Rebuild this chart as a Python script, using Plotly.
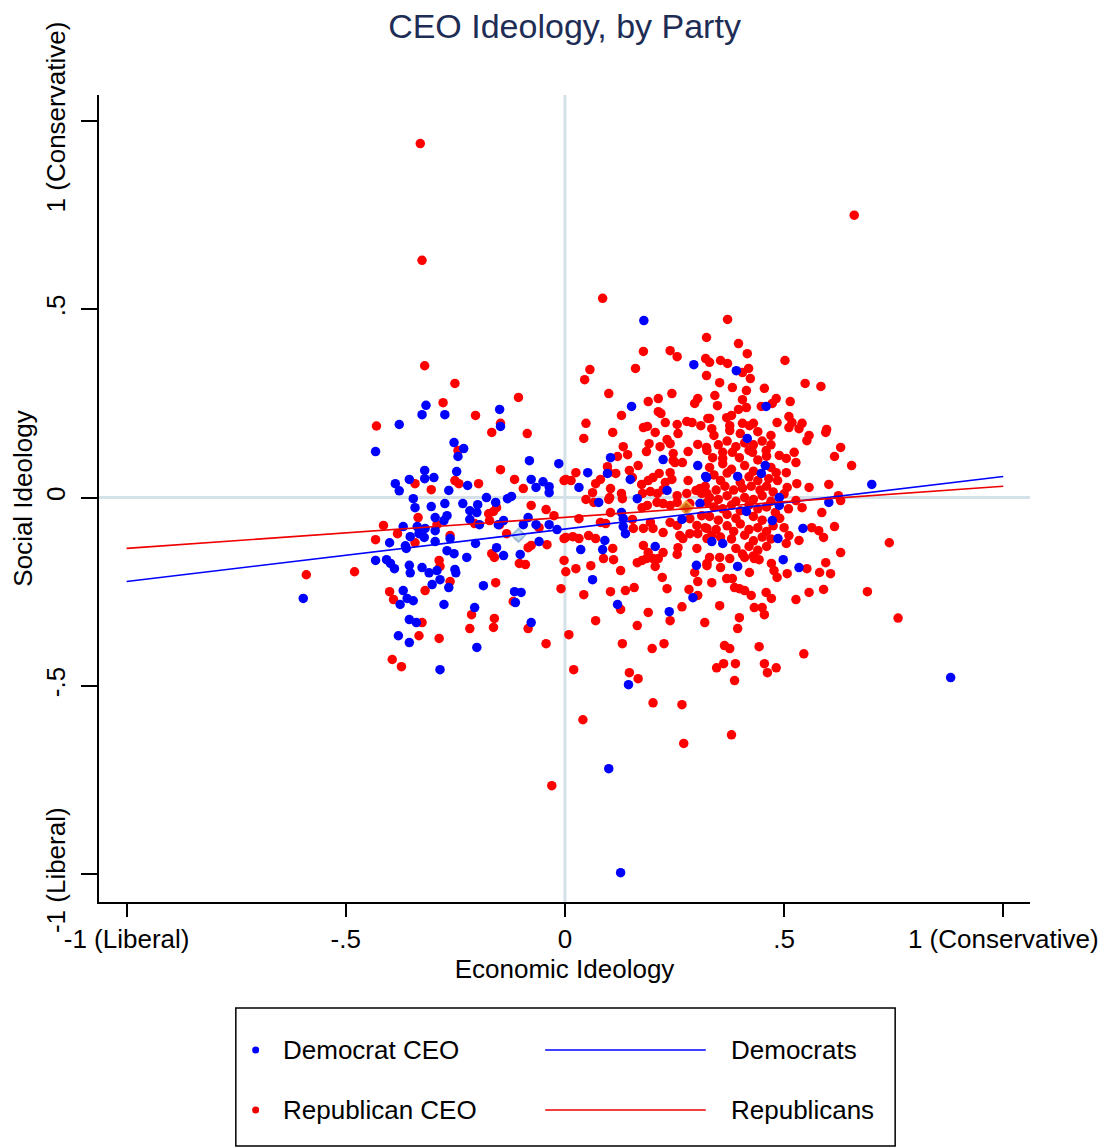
import plotly.graph_objects as go

# ---------------- data ----------------
dem_x = [0.18, 0.127, 0.10, 0.88, -0.597, 0.145, 0.70, -0.432, -0.378,
         -0.326, -0.317, -0.387, -0.378, -0.355, -0.32, -0.32, -0.346, -0.342, -0.337, -0.369,
         -0.40, -0.364, -0.362, -0.353, -0.333, -0.321, -0.432, -0.407, -0.398, -0.389,
         -0.355, -0.353, -0.326, -0.369, -0.376, -0.36, -0.346, -0.355, -0.339, -0.38, -0.355,
         -0.274, -0.149, -0.147, -0.253, -0.231, -0.244, -0.081, -0.014, -0.299, -0.247,
         -0.222, -0.265, -0.077, -0.066, -0.05, -0.036, -0.036, -0.179, -0.158, -0.131,
         -0.122, -0.305, -0.274, -0.233, -0.217, -0.201, -0.199, -0.296, -0.269, -0.276,
         -0.217, -0.195, -0.14, -0.152, -0.319, -0.296, -0.084, -0.095, -0.066, -0.036,
         -0.018, -0.262, -0.296, -0.204, -0.059, -0.269, -0.253, -0.224, -0.14, -0.156,
         -0.102, -0.31, -0.292, -0.251, -0.249, -0.285, -0.303, -0.265, -0.186, -0.115,
         -0.1, -0.113, -0.276, -0.206, -0.077, -0.201, -0.285,
         0.294, 0.152, 0.104, 0.224, 0.303, 0.052, 0.032, 0.097, 0.149, 0.321, 0.233,
         0.077, 0.165, 0.308, 0.129, 0.133, 0.133, 0.138, 0.267, 0.091, 0.036, 0.086,
         0.206, 0.30, 0.063, 0.292, 0.12, 0.238,
         0.391, 0.459, 0.416, 0.323, 0.394, 0.448, 0.457, 0.489, 0.489, 0.602, 0.414, 0.473,
         0.543, 0.335, 0.36, 0.486, 0.498, 0.534, 0.394]
dem_y = [0.47, -0.996, -0.72, -0.478, -0.268, -0.497, 0.035, 0.122, 0.194,
         0.22, 0.245, 0.037, 0.018, 0.048, 0.072, 0.05, -0.003, -0.027, -0.077, -0.077,
         -0.12, -0.128, -0.135, -0.104, -0.096, -0.106, -0.167, -0.165, -0.175, -0.189,
         -0.18, -0.2, -0.186, -0.247, -0.284, -0.268, -0.274, -0.324, -0.332, -0.367, -0.385,
         0.22, 0.234, 0.189, 0.146, 0.13, 0.109, 0.098, 0.09, 0.053, 0.069,
         0.032, 0.019, 0.048, 0.027, 0.042, 0.029, 0.013, 0.0, -0.013, -0.003,
         0.003, -0.024, -0.016, -0.016, -0.035, -0.04, -0.019, -0.053, -0.048, -0.061,
         -0.058, -0.072, -0.061, -0.072, -0.082, -0.088, -0.053, -0.072, -0.072, -0.072,
         -0.085, -0.109, -0.117, -0.122, -0.117, -0.141, -0.149, -0.159, -0.154, -0.133,
         -0.151, -0.2, -0.194, -0.191, -0.2, -0.218, -0.231, -0.239, -0.234, -0.25,
         -0.252, -0.279, -0.284, -0.292, -0.332, -0.398, -0.457,
         0.353, 0.242, 0.106, 0.101, 0.085, 0.066, 0.027, 0.064, 0.048, 0.056, 0.019,
         -0.013, -0.003, -0.016, -0.04, -0.056, -0.077, -0.096, -0.058, -0.114, -0.138, -0.138,
         -0.13, -0.18, -0.218, -0.266, -0.284, -0.303,
         0.337, 0.242, 0.157, 0.053, 0.056, 0.064, 0.085, 0.0, -0.021, -0.013, -0.037, -0.061,
         -0.082, -0.117, -0.122, -0.109, -0.165, -0.186, -0.183]

rep_x = [-0.33, -0.326, -0.32, 0.66, 0.086, -0.59, -0.48, 0.74, 0.76, 0.69, -0.03, 0.041,
         0.271, 0.38, 0.267, 0.201, 0.545,
         -0.43, -0.342, -0.335, -0.414, -0.382, -0.432, -0.342, -0.40, -0.391, -0.319, -0.326,
         -0.333, -0.394, -0.373,
         -0.251, -0.278, -0.204, -0.106, -0.147, -0.167, -0.086, -0.244, -0.147, -0.251,
         -0.242, -0.197, -0.305, -0.115, -0.095, -0.002, -0.174, -0.163, -0.156, -0.077,
         -0.043, -0.025, -0.206, -0.172, -0.149, -0.292, -0.059, -0.133, -0.106, -0.262,
         -0.084, -0.077, -0.041, -0.002, -0.167, -0.161, -0.104, -0.09, -0.002, -0.287,
         -0.285, 0.002, -0.262, -0.158, -0.009, -0.118, -0.213, -0.161, -0.163, -0.217,
         -0.084, -0.287, -0.043,
         0.179, 0.24, 0.256, 0.323, 0.321, 0.323, 0.057, 0.045, 0.161, 0.10, 0.19, 0.213,
         0.244, 0.296, 0.303, 0.129, 0.213, 0.219, 0.048, 0.043, 0.109, 0.179, 0.188, 0.206,
         0.229, 0.256, 0.258, 0.278, 0.29, 0.31, 0.326, 0.133, 0.143, 0.12, 0.192, 0.186,
         0.217, 0.233, 0.24, 0.247, 0.247, 0.281, 0.303, 0.323, 0.268, 0.251, 0.097, 0.10,
         0.116, 0.025, 0.002, 0.014, 0.147, 0.167, 0.154, 0.19, 0.201, 0.215, 0.229, 0.244,
         0.24, 0.281, 0.308, 0.324, 0.07, 0.063, 0.081, 0.104, 0.102, 0.129, 0.175, 0.177,
         0.195, 0.211, 0.224, 0.256, 0.278, 0.299, 0.312,
         0.048, 0.066, 0.10, 0.131, 0.176, 0.188, 0.21, 0.224, 0.24, 0.256, 0.285, 0.324,
         0.032, 0.104, 0.093, 0.081, 0.154, 0.156, 0.179, 0.195, 0.201, 0.224, 0.24, 0.256,
         0.285, 0.301, 0.324, 0.312, 0.002, 0.018, 0.032, 0.054, 0.07, 0.109, 0.111,
         0.179, 0.19, 0.186, 0.201, 0.213, 0.224, 0.258, 0.256, 0.269, 0.262, 0.285, 0.303,
         0.324, 0.301, 0.025, 0.059, 0.088, 0.165, 0.176, 0.206, 0.296, 0.303, 0.324, 0.127,
         0.222, 0.043, 0.104, 0.138, 0.158, 0.233, 0.283, 0.303, 0.127, 0.07, 0.19, 0.24,
         0.267, 0.165, 0.319, 0.009, 0.131, 0.199, 0.226, 0.02, 0.147, 0.167,
         0.371, 0.396, 0.416, 0.33, 0.355, 0.371, 0.419, 0.405, 0.423, 0.502, 0.353, 0.382,
         0.414, 0.455, 0.548, 0.584, 0.342, 0.348, 0.405, 0.396, 0.414, 0.448, 0.482, 0.473,
         0.514, 0.33, 0.369, 0.38, 0.376, 0.405, 0.421, 0.43, 0.484, 0.511, 0.518, 0.541,
         0.597,
         0.335, 0.376, 0.511, 0.534, 0.595, 0.557, 0.552, 0.629, 0.615, 0.654, 0.324, 0.337,
         0.36, 0.382, 0.398, 0.428, 0.459, 0.489, 0.505, 0.523, 0.527, 0.482, 0.505, 0.507,
         0.529, 0.557, 0.602, 0.624, 0.527, 0.541, 0.586, 0.629,
         0.33, 0.36, 0.38, 0.41, 0.43, 0.47, 0.34, 0.355, 0.37, 0.40, 0.42, 0.44, 0.465,
         0.485, 0.32, 0.345, 0.365, 0.385, 0.405, 0.425, 0.445, 0.46, 0.475, 0.33, 0.35,
         0.37, 0.39, 0.41, 0.43, 0.45, 0.47, 0.50, 0.34, 0.36, 0.38, 0.40, 0.42, 0.44, 0.46,
         0.48, 0.51, 0.33, 0.35, 0.37, 0.39, 0.43, 0.45, 0.49, 0.32, 0.345, 0.37, 0.385,
         0.40, 0.42, 0.44, 0.46, 0.475, 0.50, 0.335, 0.355, 0.38, 0.41, 0.43, 0.45, 0.47,
         0.39, 0.42, 0.44, 0.46, 0.405, 0.43,
         0.35, 0.37, 0.39, 0.41, 0.43, 0.45, 0.47, 0.36, 0.42, 0.44, 0.46, 0.34, 0.40, 0.44,
         0.47,
         0.563, 0.579, 0.59, 0.615, 0.629, 0.505, 0.534, 0.511, 0.552, 0.581, 0.606, 0.595,
         0.324, 0.33, 0.355, 0.353, 0.376, 0.41, 0.421, 0.432, 0.443, 0.471, 0.477, 0.484,
         0.507, 0.335, 0.369, 0.382, 0.387, 0.398, 0.41, 0.459, 0.471, 0.527, 0.557, 0.59,
         0.353, 0.425, 0.432, 0.45, 0.455, 0.398, 0.394, 0.364, 0.376, 0.443, 0.346, 0.362,
         0.389, 0.455, 0.482, 0.462, 0.387]
rep_y = [0.94, 0.63, 0.35, 0.75, 0.529, -0.205, -0.197, -0.12, -0.32, -0.25, -0.765, -0.59,
         -0.653, -0.63, -0.55, -0.545, -0.415,
         0.19, 0.037, -0.053, -0.074, -0.096, -0.112, -0.12, -0.25, -0.271, -0.247, -0.332,
         -0.367, -0.43, -0.449,
         0.303, 0.252, 0.218, 0.266, 0.197, 0.173, 0.17, 0.125, 0.074, 0.045,
         0.037, 0.037, 0.021, 0.048, 0.024, 0.045, -0.043, -0.037, -0.027, -0.021,
         -0.032, -0.048, -0.069, -0.061, -0.072, -0.072, -0.08, -0.096, -0.104, -0.101,
         -0.133, -0.127, -0.125, -0.109, -0.149, -0.159, -0.175, -0.178, -0.167, -0.167,
         -0.183, -0.197, -0.223, -0.226, -0.242, -0.276, -0.311, -0.321, -0.345, -0.348,
         -0.348, -0.374, -0.388,
         0.388, 0.39, 0.374, 0.425, 0.369, 0.324, 0.34, 0.313, 0.343, 0.276, 0.255, 0.263,
         0.276, 0.25, 0.263, 0.218, 0.228, 0.223, 0.197, 0.157, 0.173, 0.186, 0.189, 0.173,
         0.199, 0.194, 0.17, 0.202, 0.199, 0.191, 0.21, 0.135, 0.114, 0.109, 0.143, 0.122,
         0.135, 0.154, 0.143, 0.117, 0.098, 0.122, 0.141, 0.133, 0.093, 0.093, 0.082, 0.066,
         0.064, 0.066, 0.048, 0.045, 0.072, 0.085, 0.053, 0.045, 0.053, 0.064, 0.04, 0.048,
         0.066, 0.045, 0.024, 0.011, 0.037, 0.013, 0.048, 0.024, 0.0, 0.011, 0.035, 0.011,
         0.016, 0.011, 0.021, 0.005, 0.011, 0.019, 0.011,
         -0.005, -0.013, -0.005, -0.003, -0.027, -0.021, -0.013, -0.016, -0.021, -0.013, -0.016, -0.013,
         -0.056, -0.04, -0.069, -0.066, -0.058, -0.082, -0.082, -0.066, -0.082, -0.093, -0.066, -0.074,
         -0.056, -0.074, -0.082, -0.048, -0.106, -0.104, -0.109, -0.101, -0.109, -0.135, -0.165,
         -0.127, -0.146, -0.162, -0.162, -0.162, -0.146, -0.133, -0.151, -0.109, -0.101, -0.096, -0.096,
         -0.109, -0.135, -0.189, -0.181, -0.162, -0.173, -0.167, -0.183, -0.199, -0.223, -0.181, -0.194,
         -0.212, -0.258, -0.25, -0.247, -0.239, -0.242, -0.244, -0.26, -0.297, -0.327, -0.305, -0.327,
         -0.29, -0.34, -0.332, -0.364, -0.388, -0.401, -0.388, -0.457, -0.465, -0.481,
         0.473, 0.409, 0.382, 0.359, 0.364, 0.356, 0.343, 0.332, 0.316, 0.364, 0.305, 0.292,
         0.284, 0.29, 0.303, 0.295, 0.271, 0.244, 0.26, 0.234, 0.239, 0.242, 0.263, 0.25,
         0.255, 0.21, 0.212, 0.218, 0.191, 0.197, 0.191, 0.197, 0.199, 0.215, 0.199, 0.197,
         0.181,
         0.183, 0.178, 0.186, 0.183, 0.173, 0.165, 0.151, 0.133, 0.109, 0.085, 0.125, 0.106,
         0.104, 0.12, 0.106, 0.12, 0.125, 0.112, 0.104, 0.12, 0.093, 0.066, 0.066, 0.027,
         0.037, 0.027, 0.035, 0.005, -0.008, -0.027, -0.04, -0.008,
         0.08, 0.09, 0.075, 0.085, 0.07, 0.08, 0.06, 0.045, 0.065, 0.04, 0.055, 0.045, 0.05,
         0.045, 0.03, 0.02, 0.03, 0.02, 0.025, 0.03, 0.02, 0.03, 0.015, 0.0, -0.005,
         0.005, -0.01, 0.0, -0.005, 0.005, -0.01, 0.01, -0.025, -0.03, -0.02, -0.035, -0.02, -0.03, -0.025,
         -0.04, -0.03, -0.05, -0.06, -0.045, -0.055, -0.05, -0.06, -0.055, -0.08, -0.085, -0.075, -0.09,
         -0.07, -0.085, -0.08, -0.09, -0.075, -0.08, -0.1, -0.105, -0.11, -0.1, -0.115, -0.105, -0.11,
         -0.135, -0.13, -0.14, -0.13, -0.15, -0.155,
         0.14, 0.15, 0.135, 0.145, 0.14, 0.15, 0.14, 0.12, 0.125, 0.1, 0.11, 0.165, 0.17, 0.175,
         0.165,
         -0.08, -0.088, -0.106, -0.077, -0.146, -0.122, -0.114, -0.101, -0.189, -0.199, -0.202, -0.173,
         -0.175, -0.159, -0.186, -0.159, -0.162, -0.159, -0.199, -0.162, -0.165, -0.175, -0.194, -0.212,
         -0.202, -0.226, -0.215, -0.215, -0.239, -0.242, -0.247, -0.252, -0.268, -0.271, -0.252, -0.244,
         -0.287, -0.26, -0.292, -0.292, -0.311, -0.319, -0.348, -0.393, -0.401, -0.396, -0.452, -0.441,
         -0.441, -0.441, -0.452, -0.465, -0.486]

assert len(dem_x) == len(dem_y), (len(dem_x), len(dem_y))
assert len(rep_x) == len(rep_y), (len(rep_x), len(rep_y))

# fitted lines (endpoints)
fit_x = [-1.0, 1.0]
dem_fit_y = [-0.223, 0.056]
rep_fit_y = [-0.135, 0.030]

# group markers
dem_mean_x, dem_mean_y = [-0.106], [-0.10]
rep_mean_x, rep_mean_y = [0.277], [-0.027]

x_tickvals = [-1, -0.5, 0, 0.5, 1]
x_ticktext = ["-1 (Liberal)", "-.5", "0", ".5", "1 (Conservative)"]
y_tickvals = [-1, -0.5, 0, 0.5, 1]
y_ticktext = ["-1 (Liberal)", "-.5", "0", ".5", "1 (Conservative)"]

FONT = "Liberation Sans, Arial, sans-serif"
RED = "#ff0000"
BLUE = "#0000ff"
REF = "#d5e1e8"
TXT = 26

# page offset (browser body margin)
OFF = 8
FIG_W, FIG_H = 1110 - OFF, 1148 - OFF
# plot area in page pixels
PL, PR, PT, PB = 93, 1032, 95, 902
L, R, T, B = PL - OFF, PR - OFF, PT - OFF, PB - OFF
W, H = R - L, B - T


def px(v):
    return (v - OFF - L) / W


def py(v):
    return (B - (v - OFF)) / H


fig = go.Figure()

fig.add_trace(go.Scatter(x=rep_x, y=rep_y, mode="markers", name="Republican CEO",
                         marker=dict(color=RED, size=9.5, line=dict(width=0)),
                         showlegend=False))
fig.add_trace(go.Scatter(x=dem_x, y=dem_y, mode="markers", name="Democrat CEO",
                         marker=dict(color=BLUE, size=9.5, line=dict(width=0)),
                         showlegend=False))
fig.add_trace(go.Scatter(x=dem_mean_x, y=dem_mean_y, mode="markers", showlegend=False,
                         marker=dict(symbol="diamond", size=10, color="#c9dcea",
                                     line=dict(color="#9fbfd8", width=2))))
fig.add_trace(go.Scatter(x=rep_mean_x, y=rep_mean_y, mode="markers", showlegend=False,
                         marker=dict(symbol="diamond", size=10, color="#d06010",
                                     line=dict(color="#f5a040", width=2))))
fig.add_trace(go.Scatter(x=fit_x, y=dem_fit_y, mode="lines", name="Democrats",
                         line=dict(color=BLUE, width=1.6), showlegend=False))
fig.add_trace(go.Scatter(x=fit_x, y=rep_fit_y, mode="lines", name="Republicans",
                         line=dict(color="#ee0000", width=1.6), showlegend=False))

# reference lines at zero (drawn below data)
fig.add_shape(type="line", xref="x", yref="paper", x0=0, x1=0, y0=0, y1=1,
              line=dict(color=REF, width=3), layer="below")
fig.add_shape(type="line", xref="paper", yref="y", x0=0, x1=1, y0=0, y1=0,
              line=dict(color=REF, width=3), layer="below")

# ----- manual legend (paper coords) -----
fig.add_shape(type="rect", xref="paper", yref="paper",
              x0=px(231), x1=px(896), y0=py(1146), y1=py(1008),
              line=dict(color="black", width=1.5), fillcolor="white")
leg_rows = [("Democrat CEO", "Democrats", BLUE, 1050),
            ("Republican CEO", "Republicans", "#ee0000", 1110)]
for lab1, lab2, col, yy in leg_rows:
    fig.add_shape(type="circle", xref="paper", yref="paper",
                  xsizemode="pixel", ysizemode="pixel",
                  xanchor=px(251), yanchor=py(yy), x0=-3.5, x1=3.5, y0=-3.5, y1=3.5,
                  fillcolor=col, line=dict(width=0))
    fig.add_shape(type="line", xref="paper", yref="paper",
                  x0=px(543), x1=px(705), y0=py(yy), y1=py(yy),
                  line=dict(color=col, width=1.6))
    fig.add_annotation(x=px(277), y=py(yy), xref="paper", yref="paper", text=lab1,
                       showarrow=False, xanchor="left", yanchor="middle",
                       font=dict(family=FONT, size=TXT, color="black"))
    fig.add_annotation(x=px(728), y=py(yy), xref="paper", yref="paper", text=lab2,
                       showarrow=False, xanchor="left", yanchor="middle",
                       font=dict(family=FONT, size=TXT, color="black"))

fig.update_layout(
    width=FIG_W, height=FIG_H,
    margin=dict(l=L, r=FIG_W - R, t=T, b=FIG_H - B),
    paper_bgcolor="white", plot_bgcolor="white",
    font=dict(family=FONT, size=TXT, color="black"),
    title=dict(text="CEO Ideology, by Party", x=0.5, xref="paper", xanchor="center",
               y=1 - 6 / FIG_H, yref="container", yanchor="top",
               pad=dict(t=0, b=0, l=0, r=0),
               font=dict(family=FONT, size=34, color="#1e2d55")),
    xaxis=dict(range=[-1.063, 1.061], tickvals=x_tickvals, ticktext=x_ticktext,
               showline=True, linecolor="black", linewidth=2, ticks="outside",
               ticklen=13, tickwidth=2, tickcolor="black", showgrid=False, zeroline=False,
               title=dict(text="Economic Ideology", standoff=2,
                          font=dict(family=FONT, size=TXT)),
               tickfont=dict(family=FONT, size=TXT)),
    yaxis=dict(range=[-1.074, 1.069], tickvals=y_tickvals, ticktext=y_ticktext,
               showline=True, linecolor="black", linewidth=2, ticks="outside",
               ticklen=16, tickwidth=2, tickcolor="black", showgrid=False, zeroline=False,
               tickangle=-90, ticklabelstandoff=6,
               title=dict(text="Social Ideology", standoff=2,
                          font=dict(family=FONT, size=TXT)),
               tickfont=dict(family=FONT, size=TXT)),
)

fig.write_html("out.html")
